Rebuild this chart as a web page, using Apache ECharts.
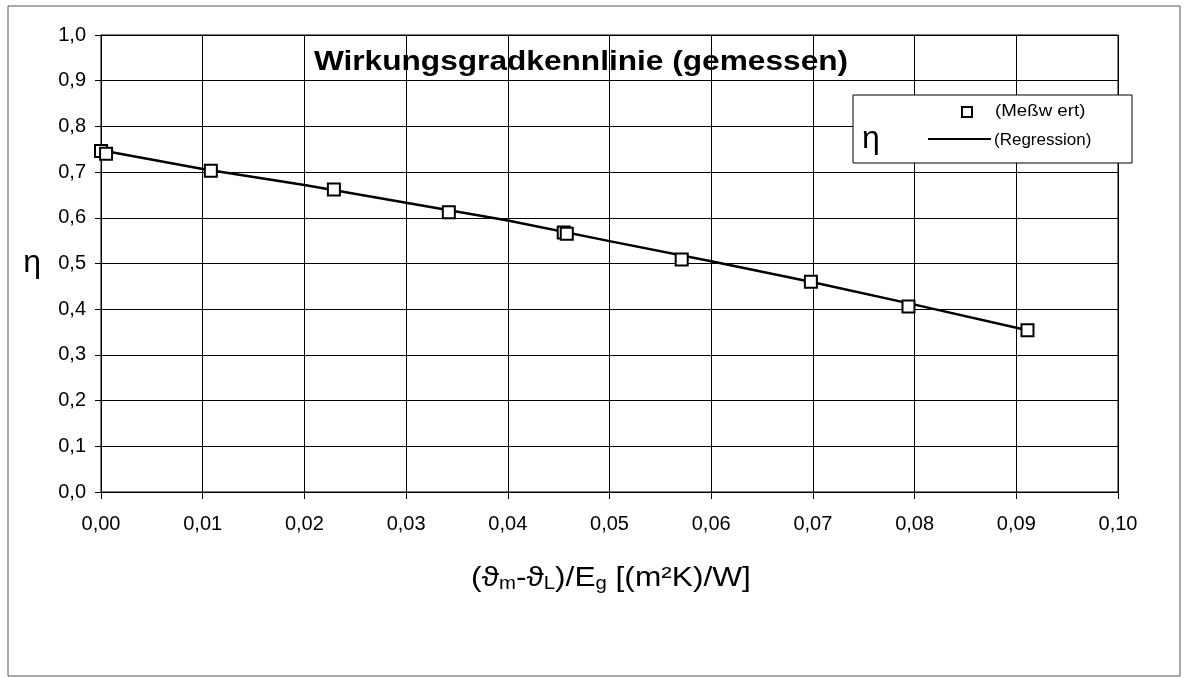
<!DOCTYPE html>
<html>
<head>
<meta charset="utf-8">
<script src="https://cdn.jsdelivr.net/npm/echarts@6/dist/echarts.min.js"></script>
<style>
  html, body { margin: 0; padding: 0; background: #fff; }
  #chart { width: 1187px; height: 678px; }
</style>
</head>
<body>
<div id="chart"></div>
<script>
// Messwerte (gemessen)
const messX = [0.0, 0.0005, 0.0108, 0.0229, 0.0342, 0.0455, 0.0458, 0.0571, 0.0698, 0.0794, 0.0911];
const messY = [0.746, 0.740, 0.703, 0.662, 0.612, 0.568, 0.565, 0.509, 0.460, 0.406, 0.354];

// Regressionskurve
const regX = [0.0, 0.01, 0.02, 0.03, 0.04, 0.05, 0.06, 0.07, 0.08, 0.0911];
const regY = [0.748, 0.707, 0.672, 0.633, 0.594, 0.549, 0.505, 0.459, 0.410, 0.354];

const yTicks = ['0,0', '0,1', '0,2', '0,3', '0,4', '0,5', '0,6', '0,7', '0,8', '0,9', '1,0'];
const xTicks = ['0,00', '0,01', '0,02', '0,03', '0,04', '0,05', '0,06', '0,07', '0,08', '0,09', '0,10'];

const font = '"Liberation Sans", Arial, sans-serif';

let myChart = echarts.init(document.getElementById('chart'));

const option = {
    animation: false,
    backgroundColor: '#fff',
    grid: {
        left: 101,
        right: 69,
        top: 35,
        bottom: 186,
        show: true,
        borderColor: '#000',
        borderWidth: 1
    },
    xAxis: {
        type: 'value',
        min: 0,
        max: 0.1,
        interval: 0.01,
        axisLine: { lineStyle: { color: '#000', width: 1 } },
        axisTick: { show: true, length: 7, lineStyle: { color: '#000' } },
        splitLine: { show: true, lineStyle: { color: '#000', width: 1 } },
        axisLabel: {
            color: '#000',
            fontFamily: font,
            fontSize: 20,
            margin: 22,
            formatter: function (v) {
                return xTicks[Math.round(v * 100)];
            }
        }
    },
    yAxis: {
        type: 'value',
        min: 0,
        max: 1,
        interval: 0.1,
        axisLine: { show: true, lineStyle: { color: '#000', width: 1 } },
        axisTick: { show: true, length: 6, lineStyle: { color: '#000' } },
        splitLine: { show: true, lineStyle: { color: '#000', width: 1 } },
        axisLabel: {
            color: '#000',
            fontFamily: font,
            fontSize: 20,
            margin: 15,
            formatter: function (v) {
                return yTicks[Math.round(v * 10)];
            }
        },
        name: 'η',
        nameLocation: 'middle',
        nameRotate: 0,
        nameGap: 60,
        nameTextStyle: { color: '#000', fontFamily: font, fontSize: 32, padding: [8, 0, 0, 0] }
    },
    series: [
        {
            name: '(Regression)',
            type: 'line',
            showSymbol: false,
            smooth: false,
            lineStyle: { color: '#000', width: 2.5 },
            data: regX.map((x, i) => [x, regY[i]]),
            z: 2
        },
        {
            name: '(Meßw ert)',
            type: 'scatter',
            symbol: 'rect',
            symbolSize: 12,
            itemStyle: { color: '#fff', borderColor: '#000', borderWidth: 2, opacity: 1 },
            data: messX.map((x, i) => [x, messY[i]]),
            z: 3
        }
    ],
    graphic: [
        // Rahmen um das Diagramm
        {
            type: 'rect',
            shape: { x: 8, y: 6, width: 1172, height: 670 },
            style: { fill: null, stroke: '#555', lineWidth: 1 },
            silent: true
        },
        {
            type: 'text',
            x: 581, y: 62,
            scaleX: 1.13,
            style: {
                text: 'Wirkungsgradkennlinie (gemessen)',
                font: 'bold 28px ' + font,
                fill: '#000',
                align: 'center',
                verticalAlign: 'middle'
            },
            z: 10
        },
        // Achsentitel x
        {
            type: 'text',
            x: 611, y: 578,
            scaleX: 1.13,
            style: {
                text: '(ϑ{s|m}-ϑ{s|L})/E{s|g} [(m²K)/W]',
                font: '28px ' + font,
                fill: '#000',
                align: 'center',
                verticalAlign: 'middle',
                rich: {
                    s: { font: '18px ' + font, fill: '#000', padding: [13, 0, 0, 0] }
                }
            },
            z: 10
        },
        // Legende
        {
            type: 'rect',
            shape: { x: 853, y: 95, width: 279, height: 68 },
            style: { fill: '#fff', stroke: '#000', lineWidth: 1 },
            z: 10
        },
        {
            type: 'text',
            x: 862, y: 139,
            style: { text: 'η', font: '32px ' + font, fill: '#000', verticalAlign: 'middle' },
            z: 11
        },
        {
            type: 'rect',
            shape: { x: 962, y: 107, width: 10, height: 10 },
            style: { fill: '#fff', stroke: '#000', lineWidth: 2 },
            z: 11
        },
        {
            type: 'text',
            x: 995, y: 111,
            scaleX: 1.1,
            style: { text: '(Meßw ert)', font: '17px ' + font, fill: '#000', verticalAlign: 'middle' },
            z: 11
        },
        {
            type: 'line',
            shape: { x1: 928, y1: 139, x2: 991, y2: 139 },
            style: { stroke: '#000', lineWidth: 2 },
            z: 11
        },
        {
            type: 'text',
            x: 994, y: 140,
            style: { text: '(Regression)', font: '17px ' + font, fill: '#000', verticalAlign: 'middle' },
            z: 11
        }
    ]
};
myChart.setOption(option);
</script>
</body>
</html>
